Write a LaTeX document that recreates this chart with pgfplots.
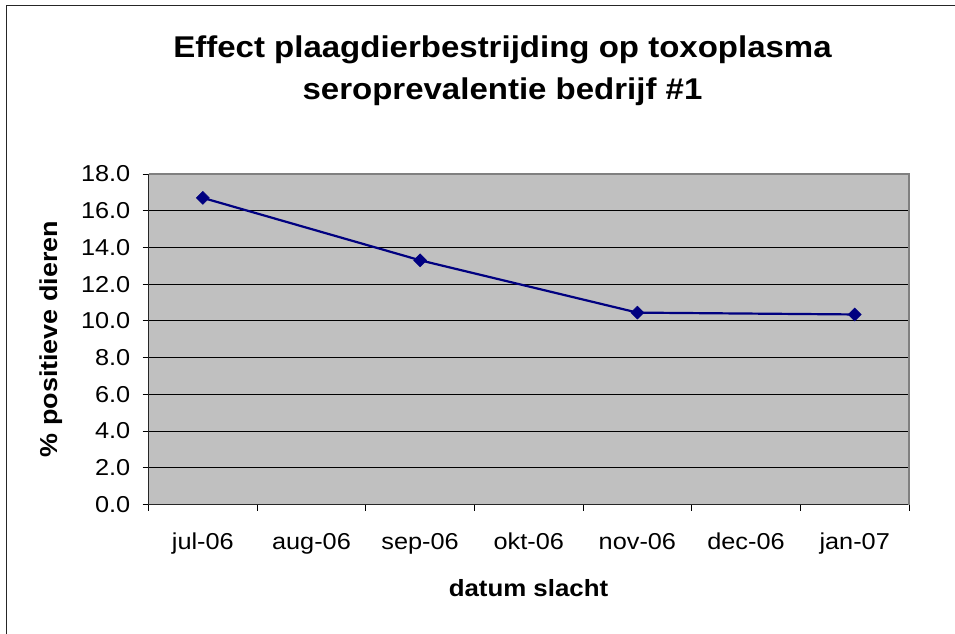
\documentclass[border=0pt]{standalone}
\usepackage{fontspec}
\setmainfont[FakeStretch=1.1]{Liberation Sans}
\usepackage{pgfplots}
\pgfplotsset{compat=1.18}
\definecolor{plotbg}{RGB}{192,192,192}
\definecolor{navyline}{RGB}{0,0,128}
\begin{document}
\begin{tikzpicture}
\useasboundingbox (0pt,0pt) rectangle (955pt,633pt);
\draw[line width=1.5pt, black!85] (6.5pt,627.5pt) rectangle (970pt,-20pt);
\begin{axis}[
  at={(148.5pt,128.5pt)}, anchor=south west,
  scale only axis, width=760.5pt, height=330.5pt,
  xmin=-0.5, xmax=6.5, ymin=0, ymax=18,
  axis x line*=bottom, axis y line*=left,
  axis line style={line width=1.3pt, black!85, -},
  axis background/.style={fill=plotbg},
  xtick={0,1,2,3,4,5,6},
  xticklabels={jul-06,aug-06,sep-06,okt-06,nov-06,dec-06,jan-07},
  minor xtick={-0.5,0.5,1.5,2.5,3.5,4.5,5.5,6.5},
  major x tick style={draw=none},
  minor x tick style={line width=1pt, black},
  ytick={0,2,...,18},
  y tick style={line width=1pt, black},
  tick align=outside, major tick length=6pt, minor tick length=6pt,
  ymajorgrids, grid style={line width=1pt, black},
  /pgf/number format/assume math mode=true,
  y tick label style={/pgf/number format/fixed, /pgf/number format/fixed zerofill, /pgf/number format/precision=1},
  ticklabel style={font=\fontsize{23}{27}\selectfont},
  xticklabel style={anchor=base, inner sep=0pt, yshift=-39pt},
  yticklabel style={anchor=east, inner sep=0pt, xshift=-12pt},
  after end axis/.code={\draw[gray, line width=1.3pt] (rel axis cs:0,1) -- (rel axis cs:1,1) -- (rel axis cs:1,0);},
  clip=false,
]
\addplot[navyline, line width=2.2pt, mark=square*, mark size=4.6pt, mark options={rotate=45, fill=navyline, draw=navyline, line width=0.5pt}]
  coordinates {(0,16.7) (2,13.3) (4,10.45) (6,10.35)};
\end{axis}
\node[anchor=base, font=\fontsize{30}{36}\bfseries] at (502.5pt,575.3pt) {Effect plaagdierbestrijding op toxoplasma};
\node[anchor=base, font=\fontsize{30}{36}\bfseries] at (502.5pt,533pt) {seroprevalentie bedrijf \#1};
\node[anchor=base, font=\fontsize{23.5}{28}\bfseries] at (528.5pt,37pt) {datum slacht};
\node[anchor=base, rotate=90, font=\fontsize{24.5}{29}\bfseries] at (57pt,294pt) {\% positieve dieren};
\end{tikzpicture}
\end{document}
